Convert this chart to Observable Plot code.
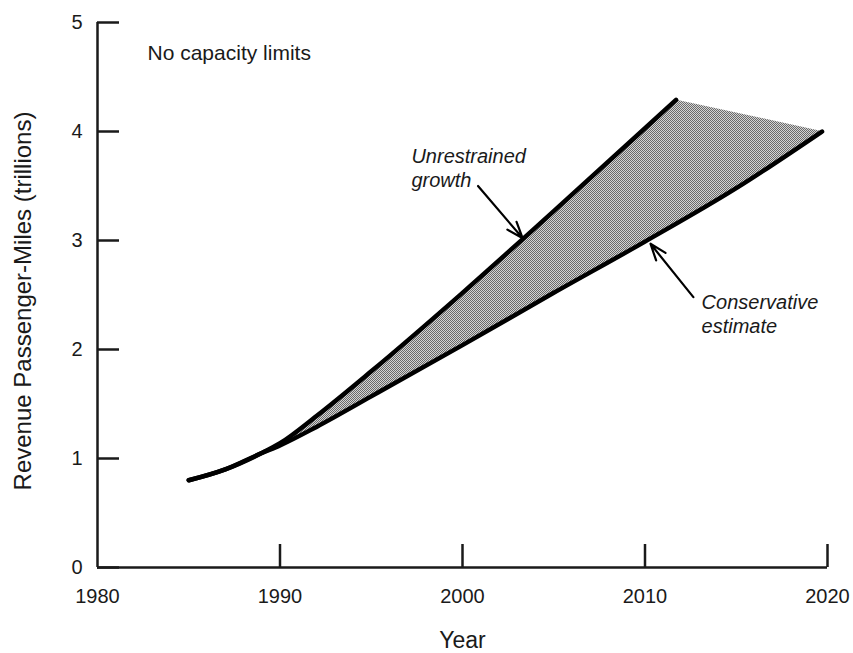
<!DOCTYPE html>
<html>
<head>
<meta charset="utf-8">
<script src="https://cdn.jsdelivr.net/npm/d3@7"></script>
<script src="https://cdn.jsdelivr.net/npm/@observablehq/plot@0.6"></script>
<style>
  html, body { margin: 0; padding: 0; background: #fff; }
  #chart { width: 853px; height: 653px; }
</style>
</head>
<body>
<div id="chart"></div>
<script>
// ---- data ----
const unrestrainedYears  = [1985, 1987, 1989, 1990, 1992, 1995, 2000, 2005, 2010, 2011.7];
const unrestrainedValues = [0.80, 0.90, 1.05, 1.14, 1.39, 1.80, 2.52, 3.27, 4.03, 4.29];

const conservativeYears  = [1985, 1987, 1989, 1990, 1992, 1995, 2000, 2005, 2010, 2015, 2019.7];
const conservativeValues = [0.80, 0.90, 1.05, 1.12, 1.29, 1.57, 2.04, 2.52, 2.99, 3.48, 4.00];

// end of the shaded band's upper edge (from unrestrained peak down to conservative end)
const capYear = 2019.7, capValue = 4.00;

const xTicks = [1980, 1990, 2000, 2010, 2020];
const xTickMarks = [1990, 2000, 2010, 2020];
const yTicks = [0, 1, 2, 3, 4, 5];

const title = "No capacity limits";
const xLabel = "Year";
const yLabel = "Revenue Passenger-Miles (trillions)";

const annotations = [
  {x: 1997.2, y: 3.77, text: "Unrestrained"},
  {x: 1997.2, y: 3.55, text: "growth"},
  {x: 2013.1, y: 2.43, text: "Conservative"},
  {x: 2013.1, y: 2.21, text: "estimate"}
];
const arrows = [
  {x1: 2000.85, y1: 3.50, x2: 2003.3, y2: 3.02},
  {x1: 2012.65, y1: 2.48, x2: 2010.3, y2: 2.97}
];

// ---- build tables ----
const unrestrained = unrestrainedYears.map((yr, i) => ({year: yr, value: unrestrainedValues[i]}));
const conservative = conservativeYears.map((yr, i) => ({year: yr, value: conservativeValues[i]}));
const topEdge = unrestrained.concat([{year: capYear, value: capValue}]);
const band = conservative.map((c, i) => ({
  xt: topEdge[i].year, yt: topEdge[i].value,
  xb: c.year, yb: c.value
}));

const font = "'Liberation Sans', Arial, Helvetica, sans-serif";
const ink = "#1a1a1a";

const chart = Plot.plot({
  width: 853,
  height: 653,
  marginLeft: 97,
  marginRight: 26,
  marginTop: 22,
  marginBottom: 86,
  style: {fontFamily: font, color: ink, background: "#fff", overflow: "visible"},
  x: {domain: [1980, 2020]},
  y: {domain: [0, 5]},
  marks: [
    // shaded band
    Plot.area(band, {x1: "xt", y1: "yt", x2: "xb", y2: "yb", fill: "url(#halftone)", curve: "linear"}),
    // lines
    Plot.line(unrestrained, {x: "year", y: "value", stroke: "#000", strokeWidth: 4.5, curve: "monotone-x", strokeLinecap: "round", strokeLinejoin: "round"}),
    Plot.line(conservative, {x: "year", y: "value", stroke: "#000", strokeWidth: 4.5, curve: "monotone-x", strokeLinecap: "round", strokeLinejoin: "round"}),
    // axis lines
    Plot.ruleX([1980], {y1: 0, y2: 5, stroke: ink, strokeWidth: 2.5}),
    Plot.ruleY([0], {x1: 1980, x2: 2020, stroke: ink, strokeWidth: 2.5}),
    // inward ticks
    Plot.ruleY(yTicks, {x1: 1980, x2: 1980, insetRight: -22, stroke: ink, strokeWidth: 2.5}),
    Plot.ruleX(xTickMarks, {y1: 0, y2: 0, insetTop: -23, stroke: ink, strokeWidth: 2.5}),
    // tick labels
    Plot.axisY({ticks: yTicks, tickSize: 0, tickPadding: 15, fontSize: 20, tickFormat: "d", label: null}),
    Plot.axisX({ticks: xTicks, tickSize: 0, tickPadding: 21, fontSize: 20, tickFormat: "d", label: null}),
    // axis titles
    Plot.text([yLabel], {frameAnchor: "left", dx: -74, dy: 6, rotate: -90, fontSize: 24, fill: ink, textAnchor: "middle", lineAnchor: "middle"}),
    Plot.text([xLabel], {frameAnchor: "bottom", dy: 73, fontSize: 23, fill: ink, textAnchor: "middle", lineAnchor: "middle"}),
    // chart note
    Plot.text([title], {frameAnchor: "top-left", dx: 50, dy: 31, fontSize: 21, fill: ink, textAnchor: "start", lineAnchor: "middle"}),
    // annotations
    Plot.text(annotations, {x: "x", y: "y", text: "text", fontSize: 20, fontStyle: "italic", fill: ink, textAnchor: "start", lineAnchor: "middle"}),
    Plot.arrow(arrows, {x1: "x1", y1: "y1", x2: "x2", y2: "y2", stroke: "#000", strokeWidth: 2.2, headLength: 12, headAngle: 40})
  ]
});

// halftone pattern for the band
const svg = d3.select(chart);
const defs = svg.insert("defs", ":first-child");
const pat = defs.append("pattern")
  .attr("id", "halftone")
  .attr("patternUnits", "userSpaceOnUse")
  .attr("width", 2).attr("height", 2);
pat.append("rect").attr("width", 2).attr("height", 2).attr("fill", "#d4d4d4");
pat.append("rect").attr("x", 0).attr("y", 0).attr("width", 1).attr("height", 1).attr("fill", "#6a6a6a");
pat.append("rect").attr("x", 1).attr("y", 1).attr("width", 1).attr("height", 1).attr("fill", "#6a6a6a");

document.getElementById("chart").appendChild(chart);
</script>
</body>
</html>
